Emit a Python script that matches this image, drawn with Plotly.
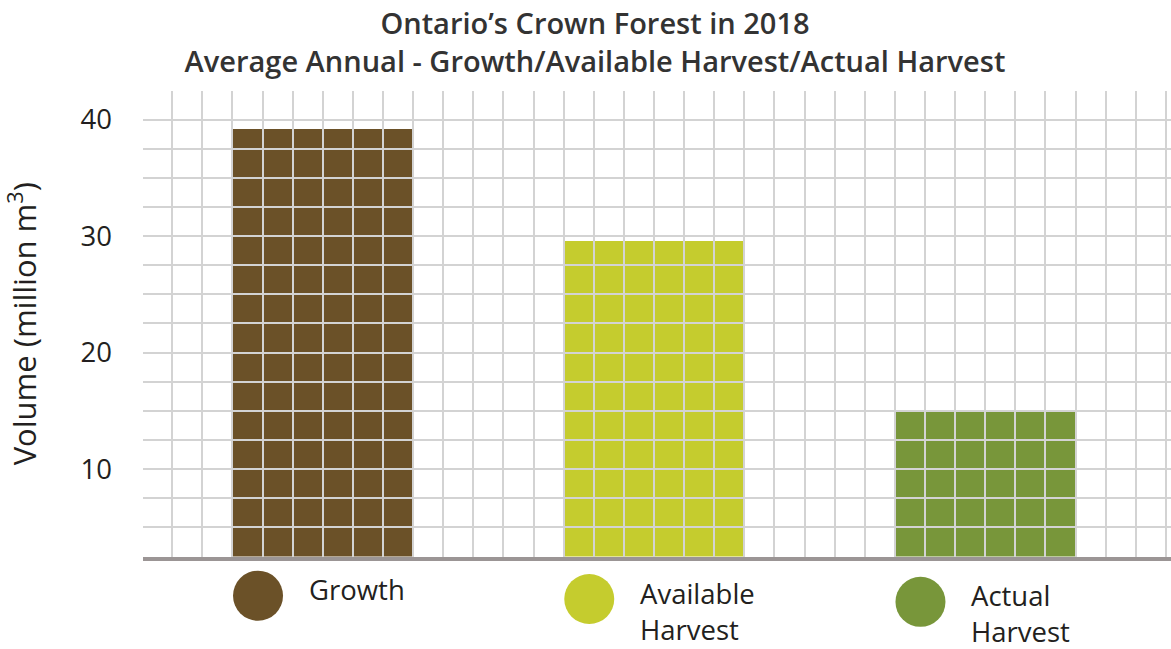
import plotly.graph_objects as go

# ---- data ----
categories = ["Growth", "Available Harvest", "Actual Harvest"]
legend_labels = ["Growth", "Available<br>Harvest", "Actual<br>Harvest"]
values = [39.2, 29.6, 15.0]
colors = ["#6B5128", "#C5CC2E", "#78963A"]
y_ticks = [10, 20, 30, 40]

# ---- layout constants ----
W, H = 1171, 649
ML, MR, MT, MB = 143, 0, 91, 0
plot_h = H - MT - MB
base_px = 556.5
main_bottom = (H - base_px) / plot_h
cell_spacing = 11          # grid cells between bar centres
bar_cells = 6              # bar width in grid cells
centers = [6 + i * cell_spacing for i in range(len(categories))]
x_range = [0.03, 34.17]
y_range = [2.5, 42.45]
FONT = "Open Sans"
TXT = "#231f20"
GRID = "#d3d3d3"

fig = go.Figure()

# bars (subplot 1)
fig.add_trace(go.Bar(
    x=centers, y=values, width=bar_cells,
    marker=dict(color=colors, line=dict(width=0)),
    xaxis="x", yaxis="y", showlegend=False, hoverinfo="y",
))

# grid overlay subplot (drawn above bars)
fig.add_trace(go.Scatter(x=[None], y=[None], xaxis="x2", yaxis="y2",
                         showlegend=False, hoverinfo="skip"))

# legend subplot
leg_dx = -2.15
leg_y = [0.616, 0.578, 0.545]
fig.add_trace(go.Scatter(
    x=[c + leg_dx for c in centers], y=leg_y, mode="markers",
    marker=dict(size=50, color=colors, line=dict(width=0)),
    xaxis="x3", yaxis="y3", showlegend=False, hoverinfo="skip", cliponaxis=False,
))

annotations = []
for c, yy, lab in zip(centers, leg_y, legend_labels):
    annotations.append(dict(
        x=c + leg_dx, y=yy, xref="x3", yref="y3", text=lab, showarrow=False,
        xanchor="left", yanchor="top", align="left", xshift=50, yshift=25.5,
        borderpad=0,
        font=dict(family=FONT, size=27.5, color=TXT),
    ))

fig.update_layout(
    width=W, height=H,
    margin=dict(l=ML, r=MR, t=MT, b=MB),
    paper_bgcolor="white", plot_bgcolor="rgba(0,0,0,0)",
    title=dict(
        text="Ontario’s Crown Forest in 2018<br>Average Annual - Growth/Available Harvest/Actual Harvest",
        x=595 / W, xanchor="center", xref="container",
        y=1 - 34 / H, yanchor="middle", yref="container",
        font=dict(family=FONT, size=29, color="#333333", weight=600),
    ),
    xaxis=dict(domain=[0, 1], range=x_range, anchor="y", showgrid=False,
               zeroline=False, showticklabels=False, ticks=""),
    yaxis=dict(domain=[main_bottom, 1], range=y_range, anchor="x", showgrid=False,
               zeroline=False, tickvals=y_ticks, ticks="", ticklabelstandoff=30,
               tickfont=dict(family=FONT, size=27.5, color=TXT),
               title=dict(text="Volume (million m<sup>3</sup>)", standoff=36,
                          font=dict(family=FONT, size=31, color=TXT))),
    xaxis2=dict(domain=[0, 1], range=x_range, anchor="y2", showgrid=True,
                gridcolor=GRID, gridwidth=1.5, tick0=0, dtick=1,
                zeroline=False, showticklabels=False, ticks="",
                showline=True, linecolor="#9b9595", linewidth=4),
    yaxis2=dict(domain=[main_bottom, 1], range=y_range, anchor="x2", showgrid=True,
                gridcolor=GRID, gridwidth=1.5, tick0=0, dtick=2.5,
                zeroline=False, showticklabels=False, ticks=""),
    xaxis3=dict(domain=[0, 1], range=x_range, anchor="y3", visible=False),
    yaxis3=dict(domain=[0, 0.155], range=[0, 1], anchor="x3", visible=False),
    annotations=annotations,
    bargap=0,
)

fig.write_html("out.html")
